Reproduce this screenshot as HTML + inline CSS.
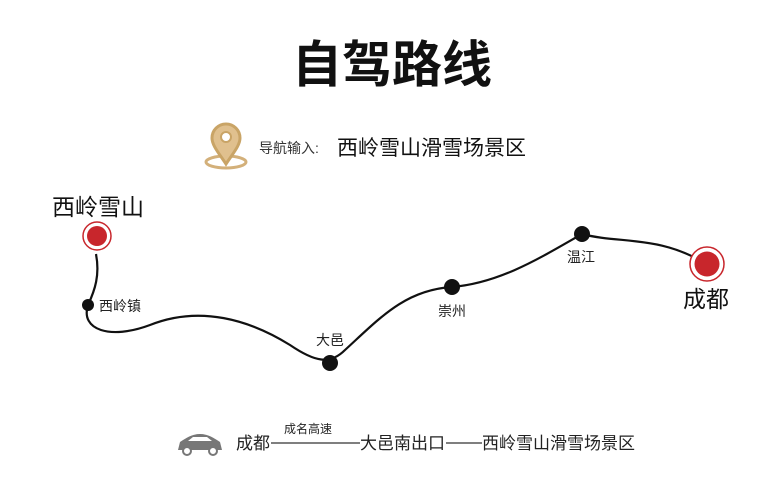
<!DOCTYPE html>
<html><head><meta charset="utf-8"><style>
body{margin:0;background:#fff;width:776px;height:480px;overflow:hidden}
svg text{font-family:"Liberation Sans","Noto Sans CJK SC",sans-serif}
</style></head><body>
<svg width="776" height="480" viewBox="0 0 776 480" xmlns="http://www.w3.org/2000/svg">
<text x="392" y="82" font-size="50" font-weight="bold" text-anchor="middle" fill="#111">自驾路线</text>
<!-- location icon -->
<g fill="none" stroke="#d3b07a" stroke-width="3">
<ellipse cx="226" cy="162" rx="20" ry="6"/>
<path d="M226,164 C218,152 212,145 212,138 A14,14 0 1 1 240,138 C240,145 234,152 226,164 Z" fill="#e0c08e" stroke="#c9a466"/>
<circle cx="226" cy="137" r="5" fill="#fff" stroke="#c9a466" stroke-width="2"/>
</g>
<text x="259" y="153" font-size="14" fill="#333">导航输入:</text>
<text x="337" y="155" font-size="21" fill="#111">西岭雪山滑雪场景区</text>
<!-- route -->
<path d="M96,254 C100,275 95,290 88,305 C80,330 110,340 150,325 C200,305 250,320 290,345 C315,362 330,365 345,350 C380,318 405,290 452,287 C500,283 540,258 582,234 C620,244 660,235 706,264" fill="none" stroke="#111" stroke-width="2.2"/>
<circle cx="97" cy="236" r="14" fill="#fff" stroke="#c8262c" stroke-width="1.5"/>
<circle cx="97" cy="236" r="10" fill="#c8262c"/>
<circle cx="707" cy="264" r="17" fill="#fff" stroke="#c8262c" stroke-width="1.5"/>
<circle cx="707" cy="264" r="12.5" fill="#c8262c"/>
<circle cx="88" cy="305" r="6" fill="#111"/>
<circle cx="330" cy="363" r="8" fill="#111"/>
<circle cx="452" cy="287" r="8" fill="#111"/>
<circle cx="582" cy="234" r="8" fill="#111"/>
<text x="52" y="215" font-size="23" fill="#111">西岭雪山</text>
<text x="683" y="307" font-size="23" fill="#111">成都</text>
<text x="99" y="311" font-size="14" fill="#222">西岭镇</text>
<text x="316" y="345" font-size="14" fill="#222">大邑</text>
<text x="438" y="316" font-size="14" fill="#222">崇州</text>
<text x="567" y="262" font-size="14" fill="#222">温江</text>
<!-- car -->
<g fill="#777">
<path d="M178,450 L180,442 C186,438 192,434 200,434 C208,434 214,438 220,442 L222,450 Z"/>
<circle cx="187" cy="451" r="4" fill="#fff" stroke="#777" stroke-width="2"/>
<circle cx="213" cy="451" r="4" fill="#fff" stroke="#777" stroke-width="2"/>
<path d="M193,437 L207,437 L212,441 L188,441 Z" fill="#fff"/>
</g>
<text x="236" y="449" font-size="17" fill="#222">成都</text>
<line x1="271" y1="443" x2="360" y2="443" stroke="#333" stroke-width="1.2"/>
<text x="284" y="433" font-size="12" fill="#222">成名高速</text>
<text x="360" y="449" font-size="17" fill="#222">大邑南出口</text>
<line x1="446" y1="443" x2="482" y2="443" stroke="#333" stroke-width="1.2"/>
<text x="482" y="449" font-size="17" fill="#222">西岭雪山滑雪场景区</text>
</svg>
</body></html>
